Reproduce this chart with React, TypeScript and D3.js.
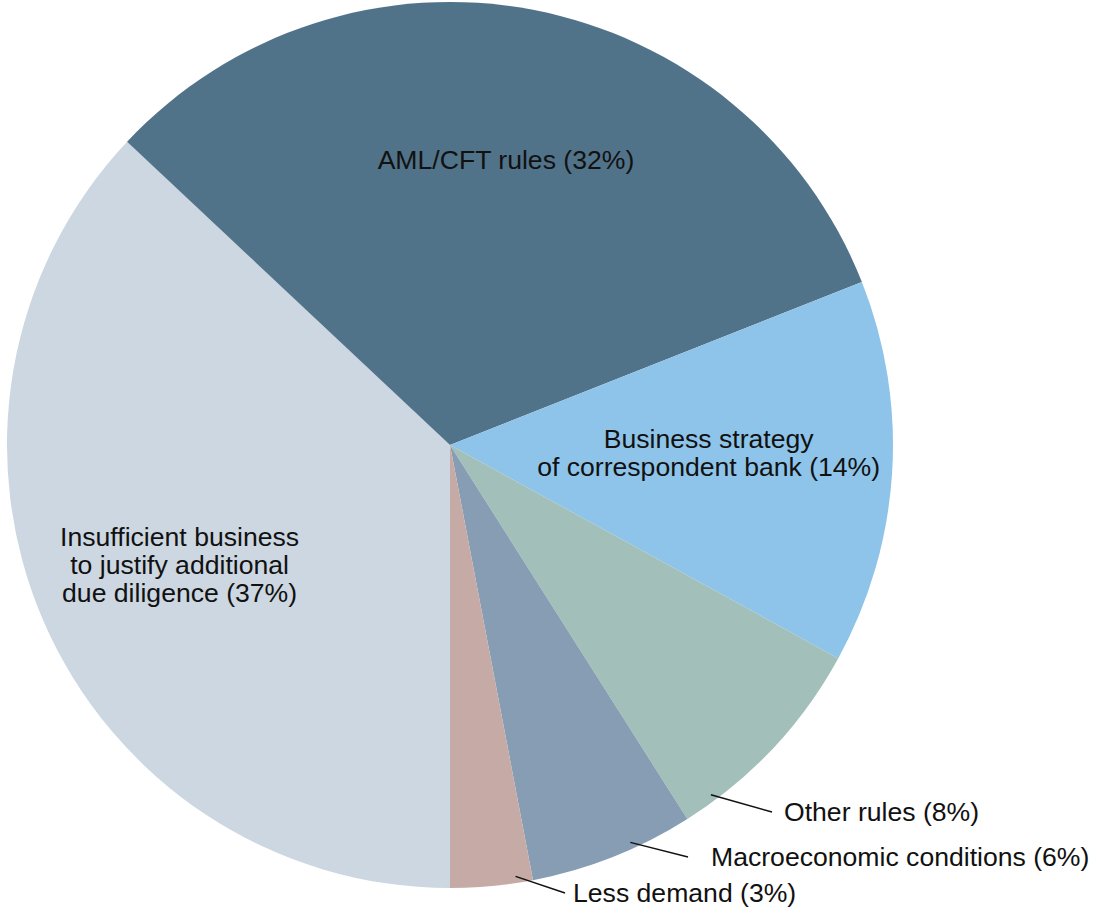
import React from "react";
import * as d3 from "d3";

const categories = [
  "Insufficient business to justify additional due diligence",
  "AML/CFT rules",
  "Business strategy of correspondent bank",
  "Other rules",
  "Macroeconomic conditions",
  "Less demand",
];
const values = [37, 32, 14, 8, 6, 3];
const colors = ["#ccd7e1", "#517389", "#8ec4e9", "#a3bfb9", "#869db3", "#c6aaa5"];
const labelLines = [
  ["Insufficient business", "to justify additional", "due diligence (37%)"],
  ["AML/CFT rules (32%)"],
  ["Business strategy", "of correspondent bank (14%)"],
  ["Other rules (8%)"],
  ["Macroeconomic conditions (6%)"],
  ["Less demand (3%)"],
];

// layout: inside labels use radius factor; outside labels use leader lines
const layout = [
  { inside: true, rf: 0.67, dx: 2, dy: 2 },
  { inside: true, rf: 0.65, dx: 2, dy: -2 },
  { inside: true, rf: 0.585, dx: 0, dy: -9 },
  { inside: false, frac: 0.85, endX: 772, endY: 812, textX: 784 },
  { inside: false, frac: 0.37, endX: 688, endY: 857, textX: 711 },
  { inside: false, frac: 0.2, endX: 565, endY: 893, textX: 573 },
];

const W = 1096;
const H = 911;
const cx = 450;
const cy = 445;
const R = 443;
const FS = 26.6;
const LH = 28;

export default function App() {
  const pie = d3
    .pie<number>()
    .sort(null)
    .value((d) => d)
    .startAngle(Math.PI)
    .endAngle(3 * Math.PI);
  const arcs = pie(values);
  const arc = d3.arc<d3.PieArcDatum<number>>().innerRadius(0).outerRadius(R);

  return (
    <svg
      width={W}
      height={H}
      style={{ position: "absolute", left: 0, top: 0, background: "#fff" }}
      fontFamily="Liberation Sans, Arial, sans-serif"
    >
      <g transform={`translate(${cx},${cy})`}>
        {arcs.map((a, i) => (
          <path key={categories[i]} d={arc(a) || ""} fill={colors[i]} />
        ))}
      </g>
      {arcs.map((a, i) => {
        const L: any = layout[i];
        const lines = labelLines[i];
        if (L.inside) {
          const mid = (a.startAngle + a.endAngle) / 2;
          const x = cx + Math.sin(mid) * R * L.rf + L.dx;
          const y = cy - Math.cos(mid) * R * L.rf + L.dy;
          const y0 = y - ((lines.length - 1) * LH) / 2;
          return (
            <text
              key={"l" + i}
              x={x}
              textAnchor="middle"
              fontSize={FS}
              fill="#111"
            >
              {lines.map((t, j) => (
                <tspan key={j} x={x} y={y0 + j * LH} dy="0.35em">
                  {t}
                </tspan>
              ))}
            </text>
          );
        }
        const ang = a.startAngle + L.frac * (a.endAngle - a.startAngle);
        const sx = cx + Math.sin(ang) * R * 0.985;
        const sy = cy - Math.cos(ang) * R * 0.985;
        return (
          <g key={"l" + i}>
            <line x1={sx} y1={sy} x2={L.endX} y2={L.endY} stroke="#111" strokeWidth={1.5} />
            <text x={L.textX} y={L.endY} dy="0.35em" fontSize={FS} fill="#111">
              {lines[0]}
            </text>
          </g>
        );
      })}
    </svg>
  );
}
